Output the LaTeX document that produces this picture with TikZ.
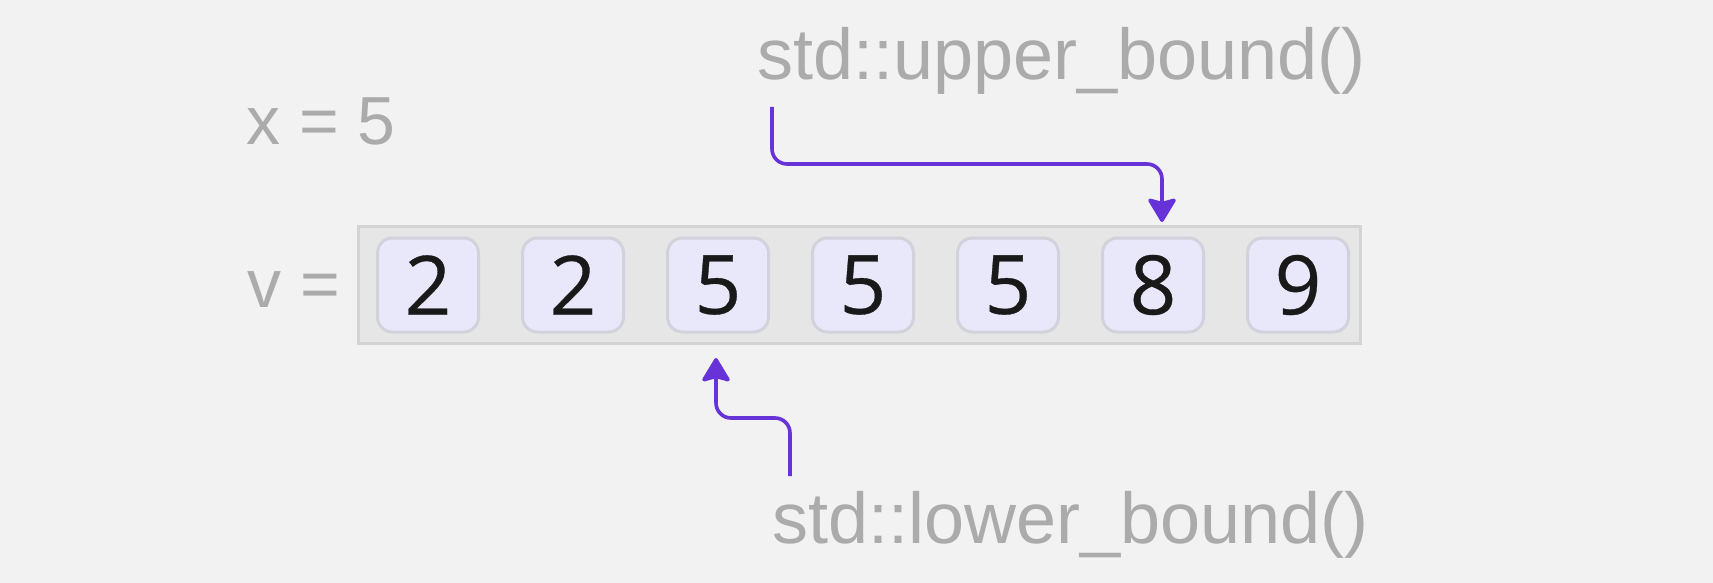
\documentclass[tikz,border=0pt]{standalone}
\usepackage{fontspec}
\setmainfont{Liberation Sans}
\newfontfamily\digitfont[FakeBold=0.4]{Open Sans}
\usetikzlibrary{positioning,arrows.meta}
\definecolor{bgcol}{HTML}{F2F2F2}
\definecolor{boxfill}{HTML}{E6E6E6}
\definecolor{boxline}{HTML}{D4D4D4}
\definecolor{cellfill}{HTML}{E8E8FA}
\definecolor{cellline}{HTML}{D2D2DC}
\definecolor{txtgray}{HTML}{ABABAB}
\definecolor{ptrcol}{HTML}{6733D9}

\begin{document}
\begin{tikzpicture}[x=0.5pt,y=-0.5pt]
\tikzset{lbl/.style={inner sep=0pt,anchor=base west,text=txtgray,font=\fontsize{34}{40}\selectfont}}
\tikzset{fname/.style={lbl,font=\fontsize{36}{42}\selectfont}}
\tikzset{cell/.style={draw=cellline,fill=cellfill,line width=1.5pt,rounded corners=7.5pt,minimum width=50.5pt,minimum height=47pt,inner sep=0pt,text=black!90,font=\digitfont\fontsize{41}{46}\selectfont}}
\tikzset{ptr/.style={draw=ptrcol,line width=1.8pt,rounded corners=7.5pt,-{Stealth[width=15.5pt,length=13pt,inset=2pt,round]}}}

\fill[bgcol] (0,0) rectangle (1713,583);
\useasboundingbox (0,0) rectangle (1713,583);

%the vector
\node[draw=boxline,fill=boxfill,line width=1.5pt,minimum width=501pt,minimum height=58.5pt,inner sep=0pt] (vec) at (859.5,285) {};
\foreach \val [count=\i] in {2,2,5,5,5,8,9}
\node[cell] (c\i) at ({428+145*(\i-1)},285) {\raisebox{-1.5pt}{\val}};

%labels
\node[lbl] (xlbl) at (246,145) {x = 5};
\node[lbl] (vlbl) at (247,307) {v =};
\node[fname] (ub) at (757,80) {std::upper\_bound()};
\node[fname] (lb) at (772,543) {std::lower\_bound()};

%pointers
\coordinate (ubs) at (772,107);
\coordinate (ubt) at (1162,222);
\coordinate (lbs) at (790,476);
\coordinate (lbt) at (716,358);
\draw[ptr] (ubs) -- ++(0,57) -| (ubt);
\draw[ptr] (lbs) -- ++(0,-58) -| (lbt);
\end{tikzpicture}
\end{document}
